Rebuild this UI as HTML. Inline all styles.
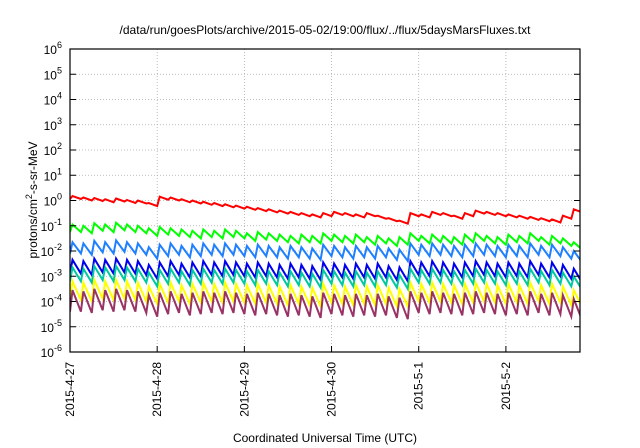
<!DOCTYPE html>
<html><head><meta charset="utf-8"><style>
body{margin:0;background:#fff;}
svg{display:block;font-family:"Liberation Sans",sans-serif;}
</style></head><body>
<svg id="chart" width="640" height="448" viewBox="0 0 640 448">
<rect width="640" height="448" fill="#fff"/>
<text x="325" y="34" font-size="12" text-anchor="middle">/data/run/goesPlots/archive/2015-05-02/19:00/flux/../flux/5daysMarsFluxes.txt</text>
<g id="grid"></g><g id="series"></g><g id="axes"></g>
<text x="325" y="442" font-size="12" text-anchor="middle">Coordinated Universal Time (UTC)</text>
<text transform="translate(37,200) rotate(-90)" font-size="12" text-anchor="middle">protons/cm<tspan dy="-5" font-size="9">2</tspan><tspan dy="5">-s-sr-MeV</tspan></text>
</svg>
<script>
const dayLabels=["2015-4-27","2015-4-28","2015-4-29","2015-4-30","2015-5-1","2015-5-2"];
const decades=[-6,-5,-4,-3,-2,-1,0,1,2,3,4,5,6];
const cycleHours=[0,3,6,9,12,15,18,21,24,27,30,33,36,39,42,45,48,51,54,57,60,63,66,69,72,75,78,81,84,87,90,93,96,99,102,105,108,111,114,117,120,123,126,129,132,135,138];
const seriesColors=["#ff0000","#00ff00","#1e7fff","#0000ee","#00c8a0","#ffff00","#993366"];
const seriesNames=["p1","p2","p3","p4","p5","p6","p7"];
const redPeaks=[0.18,0.12,0.1,0.05,0.08,0.02,0.0,-0.1,0.15,0.12,0.05,0.0,-0.05,-0.1,-0.15,-0.2,-0.25,-0.3,-0.35,-0.4,-0.45,-0.5,-0.55,-0.5,-0.45,-0.5,-0.55,-0.5,-0.6,-0.7,-0.8,-0.5,-0.55,-0.45,-0.5,-0.6,-0.5,-0.4,-0.45,-0.5,-0.55,-0.6,-0.65,-0.7,-0.75,-0.6,-0.35];
const redTroughs=[0.06,0.0,-0.02,-0.07,-0.04,-0.1,-0.12,-0.22,0.03,0.0,-0.07,-0.12,-0.17,-0.22,-0.27,-0.32,-0.37,-0.42,-0.47,-0.52,-0.57,-0.62,-0.67,-0.62,-0.57,-0.62,-0.67,-0.62,-0.72,-0.82,-0.92,-0.62,-0.67,-0.57,-0.62,-0.72,-0.62,-0.52,-0.57,-0.62,-0.67,-0.72,-0.77,-0.82,-0.87,-0.72,-0.47];
const greenPeaks=[-0.95,-1.0,-0.9,-0.95,-0.88,-0.95,-1.0,-1.1,-1.05,-1.1,-1.15,-1.2,-1.15,-1.2,-1.15,-1.2,-1.3,-1.25,-1.3,-1.35,-1.4,-1.35,-1.4,-1.3,-1.35,-1.4,-1.35,-1.45,-1.4,-1.5,-1.45,-1.3,-1.4,-1.35,-1.4,-1.45,-1.35,-1.3,-1.4,-1.45,-1.35,-1.4,-1.3,-1.45,-1.4,-1.5,-1.65];
const greenTroughs=[-1.25,-1.3,-1.2,-1.25,-1.18,-1.25,-1.3,-1.4,-1.35,-1.4,-1.45,-1.5,-1.45,-1.5,-1.45,-1.5,-1.6,-1.55,-1.6,-1.65,-1.7,-1.65,-1.7,-1.6,-1.65,-1.7,-1.65,-1.75,-1.7,-1.8,-1.75,-1.6,-1.7,-1.65,-1.7,-1.75,-1.65,-1.6,-1.7,-1.75,-1.65,-1.7,-1.6,-1.75,-1.7,-1.8,-1.95];
const lblPeaks=[-1.65,-1.7,-1.6,-1.65,-1.58,-1.65,-1.7,-1.85,-1.75,-1.7,-1.8,-1.75,-1.7,-1.75,-1.7,-1.75,-1.8,-1.75,-1.8,-1.85,-1.8,-1.85,-1.9,-1.75,-1.8,-1.85,-1.8,-1.85,-1.8,-1.9,-1.95,-1.7,-1.75,-1.7,-1.75,-1.8,-1.75,-1.7,-1.75,-1.8,-1.75,-1.8,-1.7,-1.8,-1.75,-1.85,-2.0];
const lblTroughs=[-2.1,-2.15,-2.05,-2.1,-2.03,-2.1,-2.15,-2.3,-2.2,-2.15,-2.25,-2.2,-2.15,-2.2,-2.15,-2.2,-2.25,-2.2,-2.25,-2.3,-2.25,-2.3,-2.35,-2.2,-2.25,-2.3,-2.25,-2.3,-2.25,-2.35,-2.4,-2.15,-2.2,-2.15,-2.2,-2.25,-2.2,-2.15,-2.2,-2.25,-2.2,-2.25,-2.15,-2.25,-2.2,-2.3,-2.45];
const bluePeaks=[-2.35,-2.4,-2.3,-2.35,-2.3,-2.35,-2.4,-2.55,-2.45,-2.4,-2.5,-2.45,-2.4,-2.45,-2.4,-2.45,-2.5,-2.45,-2.5,-2.55,-2.5,-2.55,-2.6,-2.45,-2.5,-2.55,-2.5,-2.55,-2.5,-2.6,-2.65,-2.4,-2.45,-2.4,-2.45,-2.5,-2.45,-2.4,-2.45,-2.5,-2.45,-2.5,-2.4,-2.5,-2.45,-2.55,-2.7];
const blueTroughs=[-2.9,-2.95,-2.85,-2.9,-2.85,-2.9,-2.95,-3.1,-3.0,-2.95,-3.05,-3.0,-2.95,-3.0,-2.95,-3.0,-3.05,-3.0,-3.05,-3.1,-3.05,-3.1,-3.15,-3.0,-3.05,-3.1,-3.05,-3.1,-3.05,-3.15,-3.2,-2.95,-3.0,-2.95,-3.0,-3.05,-3.0,-2.95,-3.0,-3.05,-3.0,-3.05,-2.95,-3.05,-3.0,-3.1,-3.25];
const tealPeaks=[-2.65,-2.7,-2.6,-2.65,-2.6,-2.65,-2.7,-2.85,-2.75,-2.7,-2.8,-2.75,-2.7,-2.75,-2.7,-2.75,-2.8,-2.75,-2.8,-2.85,-2.8,-2.85,-2.9,-2.75,-2.8,-2.85,-2.8,-2.85,-2.8,-2.9,-2.95,-2.7,-2.75,-2.7,-2.75,-2.8,-2.75,-2.7,-2.75,-2.8,-2.75,-2.8,-2.7,-2.8,-2.75,-2.85,-3.0];
const tealTroughs=[-3.2,-3.25,-3.15,-3.2,-3.15,-3.2,-3.25,-3.4,-3.3,-3.25,-3.35,-3.3,-3.25,-3.3,-3.25,-3.3,-3.35,-3.3,-3.35,-3.4,-3.35,-3.4,-3.45,-3.3,-3.35,-3.4,-3.35,-3.4,-3.35,-3.45,-3.5,-3.25,-3.3,-3.25,-3.3,-3.35,-3.3,-3.25,-3.3,-3.35,-3.3,-3.35,-3.25,-3.35,-3.3,-3.4,-3.55];
const yellowPeaks=[-3.2,-3.25,-3.15,-3.2,-3.15,-3.2,-3.25,-3.4,-3.3,-3.25,-3.35,-3.3,-3.25,-3.3,-3.25,-3.3,-3.35,-3.3,-3.35,-3.4,-3.35,-3.4,-3.45,-3.3,-3.35,-3.4,-3.35,-3.4,-3.35,-3.45,-3.5,-3.25,-3.3,-3.25,-3.3,-3.35,-3.3,-3.25,-3.3,-3.35,-3.3,-3.35,-3.25,-3.35,-3.3,-3.4,-3.55];
const yellowTroughs=[-3.95,-4.0,-3.9,-3.95,-3.9,-3.95,-4.0,-4.1,-4.05,-4.0,-4.1,-4.05,-4.0,-4.05,-4.0,-4.05,-4.1,-4.05,-4.1,-4.15,-4.1,-4.15,-4.2,-4.05,-4.1,-4.15,-4.1,-4.15,-4.1,-4.2,-4.2,-4.0,-4.05,-4.0,-4.05,-4.1,-4.05,-4.0,-4.05,-4.1,-4.05,-4.1,-4.0,-4.1,-4.05,-4.15,-4.25];
const purplePeaks=[-3.55,-3.6,-3.5,-3.55,-3.5,-3.55,-3.6,-3.75,-3.65,-3.6,-3.7,-3.65,-3.6,-3.65,-3.6,-3.65,-3.7,-3.65,-3.7,-3.75,-3.7,-3.75,-3.8,-3.65,-3.7,-3.75,-3.7,-3.75,-3.7,-3.8,-3.85,-3.6,-3.65,-3.6,-3.65,-3.7,-3.65,-3.6,-3.65,-3.7,-3.65,-3.7,-3.6,-3.7,-3.65,-3.75,-3.9];
const purpleTroughs=[-4.4,-4.45,-4.35,-4.4,-4.35,-4.4,-4.45,-4.6,-4.5,-4.45,-4.55,-4.5,-4.45,-4.5,-4.45,-4.5,-4.55,-4.5,-4.55,-4.6,-4.55,-4.6,-4.65,-4.5,-4.55,-4.6,-4.55,-4.6,-4.55,-4.65,-4.7,-4.45,-4.5,-4.45,-4.5,-4.55,-4.5,-4.45,-4.5,-4.55,-4.5,-4.55,-4.45,-4.55,-4.5,-4.6,-4.75];
const allPeaks=[redPeaks,greenPeaks,lblPeaks,bluePeaks,tealPeaks,yellowPeaks,purplePeaks];
const allTroughs=[redTroughs,greenTroughs,lblTroughs,blueTroughs,tealTroughs,yellowTroughs,purpleTroughs];

const L=70,R=580,T=49,B=352,NS="http://www.w3.org/2000/svg";
const maxHours=140.4;
function xs(h){return L+h/maxHours*(R-L);}
function ys(lg){return B-(lg+6)/12*(B-T);}
function mk(tag,attrs,parent){const e=document.createElementNS(NS,tag);for(const k in attrs)e.setAttribute(k,attrs[k]);parent.appendChild(e);return e;}
const grid=document.getElementById('grid'),axes=document.getElementById('axes'),ser=document.getElementById('series');
decades.forEach(d=>{
  const y=ys(d);
  if(d>-6&&d<6){const g=mk('line',{x1:L,x2:R,y1:y,y2:y,stroke:'#aaa','stroke-width':0.8,'stroke-dasharray':'1,2'},grid);
  
  }
  const t1=mk('line',{x1:L,x2:L+6,y1:y,y2:y,stroke:'#000'},axes);
  
  
  const t2=mk('line',{x1:R-6,x2:R,y1:y,y2:y,stroke:'#000'},axes);
  
  
  const tx=mk('text',{x:L-8,y:y+5,'font-size':12,'text-anchor':'end'},axes);
  
  
  tx.textContent='10';
  const sp=mk('tspan',{dy:-6,'font-size':9},tx);sp.textContent=String(d);
});
dayLabels.forEach((lab,i)=>{
  const x=xs(i*24);
  if(i>0){const g=mk('line',{x1:x,x2:x,y1:T,y2:B,stroke:'#aaa','stroke-width':0.8,'stroke-dasharray':'1,2'},grid);
  
  }
  const t=mk('line',{x1:x,x2:x,y1:B-6,y2:B,stroke:'#000'},axes);
  
  
  const tx=mk('text',{transform:`translate(${x+4},${B+10}) rotate(-90)`,'font-size':12,'text-anchor':'end'},axes);
  
  
  tx.textContent=lab;
});
const frame=mk('rect',{x:L,y:T,width:R-L,height:B-T,fill:'none',stroke:'#000','stroke-width':1.2},axes);


mk('clipPath',{id:'clip'},ser);
mk('rect',{x:L,y:T,width:R-L,height:B-T},document.getElementById('clip'));
allPeaks.forEach((peaks,s)=>{
  const tr=allTroughs[s];
  let d='M'+xs(0).toFixed(1)+','+ys(tr[0]).toFixed(1);
  cycleHours.forEach((h,i)=>{
    const next=i+1<cycleHours.length?cycleHours[i+1]:h+3;
    d+='L'+xs(h+0.7).toFixed(1)+','+ys(peaks[i]).toFixed(1);
    d+='L'+xs(next).toFixed(1)+','+ys(tr[i]).toFixed(1);
  });
  const p=mk('path',{d:d,fill:'none',stroke:seriesColors[s],'stroke-width':2,'stroke-linejoin':'miter','clip-path':'url(#clip)'},ser);
  
  
});
</script>
</body></html>
